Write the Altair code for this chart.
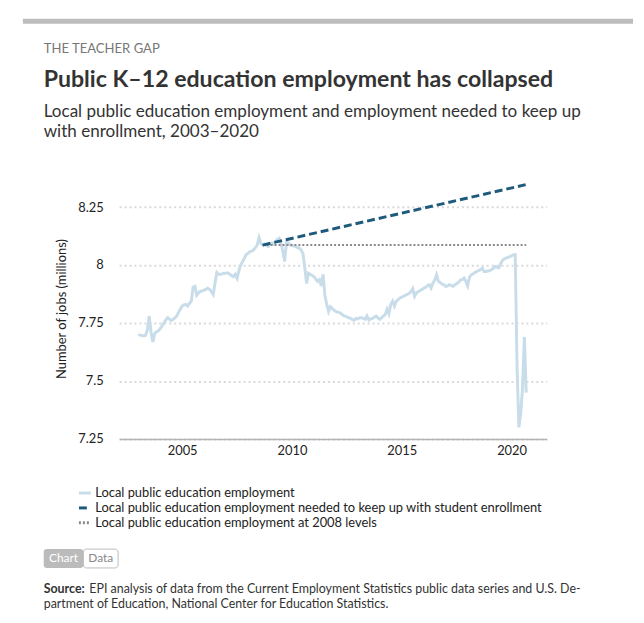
import altair as alt
import pandas as pd

# ---------------- data ----------------
S1 = "Local public education employment"
S2 = "Local public education employment needed to keep up with student enrollment"
S3 = "Local public education employment at 2008 levels"

years = list(range(2003, 2021))
emp_2003 = [7.700, 7.698, 7.696, 7.695, 7.697, 7.720, 7.780, 7.710, 7.668, 7.705, 7.712, 7.716]
emp_2004 = [7.725, 7.737, 7.750, 7.762, 7.773, 7.768, 7.760, 7.765, 7.772, 7.780, 7.795, 7.810]
emp_2005 = [7.823, 7.828, 7.830, 7.823, 7.835, 7.844, 7.904, 7.908, 7.870, 7.880, 7.887, 7.888]
emp_2006 = [7.892, 7.895, 7.900, 7.895, 7.885, 7.873, 7.925, 7.968, 7.960, 7.960, 7.962, 7.965]
emp_2007 = [7.965, 7.966, 7.960, 7.955, 7.950, 7.960, 7.943, 7.975, 8.000, 8.015, 8.030, 8.045]
emp_2008 = [8.050, 8.058, 8.060, 8.065, 8.075, 8.086, 8.118, 8.093, 8.086, 8.090, 8.085, 8.080]
emp_2009 = [8.090, 8.095, 8.090, 8.100, 8.110, 8.115, 8.093, 8.060, 8.015, 8.100, 8.095, 8.086]
emp_2010 = [8.085, 8.082, 8.080, 8.075, 8.073, 8.065, 8.050, 7.990, 7.920, 7.965, 7.960, 7.955]
emp_2011 = [7.950, 7.940, 7.930, 7.937, 7.910, 7.960, 7.870, 7.830, 7.800, 7.820, 7.813, 7.805]
emp_2012 = [7.800, 7.797, 7.795, 7.790, 7.783, 7.780, 7.776, 7.773, 7.770, 7.765, 7.762, 7.770]
emp_2013 = [7.768, 7.772, 7.773, 7.770, 7.766, 7.780, 7.763, 7.768, 7.770, 7.775, 7.780, 7.772]
emp_2014 = [7.766, 7.773, 7.780, 7.787, 7.810, 7.790, 7.830, 7.844, 7.823, 7.844, 7.850, 7.858]
emp_2015 = [7.862, 7.865, 7.870, 7.873, 7.878, 7.885, 7.898, 7.865, 7.880, 7.885, 7.890, 7.894]
emp_2016 = [7.900, 7.904, 7.911, 7.915, 7.901, 7.922, 7.935, 7.958, 7.930, 7.925, 7.918, 7.915]
emp_2017 = [7.908, 7.910, 7.915, 7.912, 7.908, 7.915, 7.920, 7.925, 7.935, 7.937, 7.944, 7.930]
emp_2018 = [7.910, 7.948, 7.958, 7.962, 7.968, 7.972, 7.976, 7.980, 7.986, 7.972, 7.972, 7.974]
emp_2019 = [7.976, 7.980, 7.985, 7.994, 7.990, 7.988, 8.005, 8.020, 8.026, 8.030, 8.033, 8.036]
emp_2020 = [8.040, 8.044, 8.045, 7.560, 7.300, 7.360, 7.470, 7.690, 7.450]
employment = [emp_2003, emp_2004, emp_2005, emp_2006, emp_2007, emp_2008, emp_2009,
              emp_2010, emp_2011, emp_2012, emp_2013, emp_2014, emp_2015, emp_2016,
              emp_2017, emp_2018, emp_2019, emp_2020]

needed_dates = [2008 + 8 / 12, 2020 + 8 / 12]
needed_values = [8.086, 8.347]
level2008_dates = [2008 + 8 / 12, 2020 + 8 / 12]
level2008_values = [8.086, 8.086]

x_ticks = [2005, 2010, 2015, 2020]
y_ticks = [7.25, 7.5, 7.75, 8, 8.25]

rows = []
for yr, vals in zip(years, employment):
    for i, v in enumerate(vals):
        rows.append({"date": yr + i / 12, "value": v, "series": S1})
df_emp = pd.DataFrame(rows)
df_need = pd.DataFrame({"date": needed_dates, "value": needed_values, "series": S2})
df_lvl = pd.DataFrame({"date": level2008_dates, "value": level2008_values, "series": S3})

# ---------------- styling ----------------
FONT = "Lato"
W, H = 431, 263

color_scale = alt.Scale(domain=[S1, S2, S3], range=["#c8dde9", "#1d5a7c", "#8a8a8a"])
dash_scale = alt.Scale(domain=[S1, S2, S3], range=[[1, 0], [8, 4], [2, 2]])
legend = alt.Legend(orient="none", legendX=-42, legendY=310, title=None,
                    symbolType="stroke", symbolStrokeWidth=3, symbolSize=144,
                    labelFontSize=13, labelFont=FONT, labelColor="#222",
                    labelLimit=0, rowPadding=0, padding=0, labelOffset=3)

x_enc = alt.X("date:Q",
              scale=alt.Scale(domain=[2002.13, 2021.6], nice=False, zero=False),
              axis=alt.Axis(values=x_ticks, format="d", title=None, grid=False,
                            ticks=False, domainColor="#b3b3b3", domainWidth=1.5,
                            labelFontSize=13, labelColor="#222", labelFont=FONT,
                            labelPadding=6))
y_enc = alt.Y("value:Q",
              scale=alt.Scale(domain=[7.25, 8.375], nice=False, zero=False),
              axis=alt.Axis(values=y_ticks, format=".2~f", title="Number of jobs (millions)",
                            grid=True, gridDash=[2, 3], gridColor="#d9d9d9", gridWidth=2,
                            domain=False, ticks=False, labelFontSize=13, labelColor="#222",
                            labelFont=FONT, labelPadding=16, titleFont=FONT,
                            titleFontSize=13, titleFontWeight="normal", titleColor="#222",
                            titlePadding=9))


def series_layer(df, width):
    return alt.Chart(df).mark_line(strokeWidth=width).encode(
        x=x_enc, y=y_enc,
        color=alt.Color("series:N", scale=color_scale, legend=legend),
        strokeDash=alt.StrokeDash("series:N", scale=dash_scale, legend=legend),
    )


def txt(s, x, y, size, color, weight="normal", align="left"):
    return alt.Chart(pd.DataFrame({"t": [s]})).mark_text(
        align=align, baseline="middle", fontSize=size, font=FONT,
        fontWeight=weight, color=color
    ).encode(x=alt.value(x), y=alt.value(y), text="t:N")


one = pd.DataFrame({"a": [0]})
bar = alt.Chart(one).mark_rule(color="#bdbdbd", strokeWidth=5).encode(
    x=alt.value(-97), x2=alt.value(518), y=alt.value(-158))
btn_chart = alt.Chart(one).mark_rect(fill="#bbbbbb", cornerRadius=3).encode(
    x=alt.value(-76), x2=alt.value(-36), y=alt.value(374), y2=alt.value(393))
btn_data = alt.Chart(one).mark_rect(fill="white", stroke="#bbbbbb", strokeWidth=1,
                                    cornerRadius=3).encode(
    x=alt.value(-36), x2=alt.value(-1), y=alt.value(374), y2=alt.value(393))

layers = [
    bar,
    txt("THE TEACHER GAP", -76, -130, 13.2, "#777777"),
    txt("Public K–12 education employment has collapsed", -76, -99, 23.3, "#333333", "bold"),
    txt("Local public education employment and employment needed to keep up", -76, -67, 17.2, "#333333"),
    txt("with enrollment, 2003–2020", -76, -46, 17.2, "#333333"),
    series_layer(df_emp, 3),
    series_layer(df_lvl, 2),
    series_layer(df_need, 3),
    btn_chart, btn_data,
    txt("Chart", -56, 383.5, 12, "white", align="center"),
    txt("Data", -18.5, 383.5, 12, "#888888", align="center"),
    txt("Source:", -76, 414, 12.5, "#333333", "bold"),
    txt("EPI analysis of data from the Current Employment Statistics public data series and U.S. De-",
        -30, 414, 12.5, "#333333"),
    txt("partment of Education, National Center for Education Statistics.", -76, 429, 12.5, "#333333"),
]

chart = alt.layer(*layers).properties(
    width=W, height=H,
    padding={"left": 12, "top": 8, "right": 0, "bottom": 0},
    background="white",
).configure_view(stroke=None)

chart.save("out.html", embed_options={"renderer": "svg", "actions": False})
